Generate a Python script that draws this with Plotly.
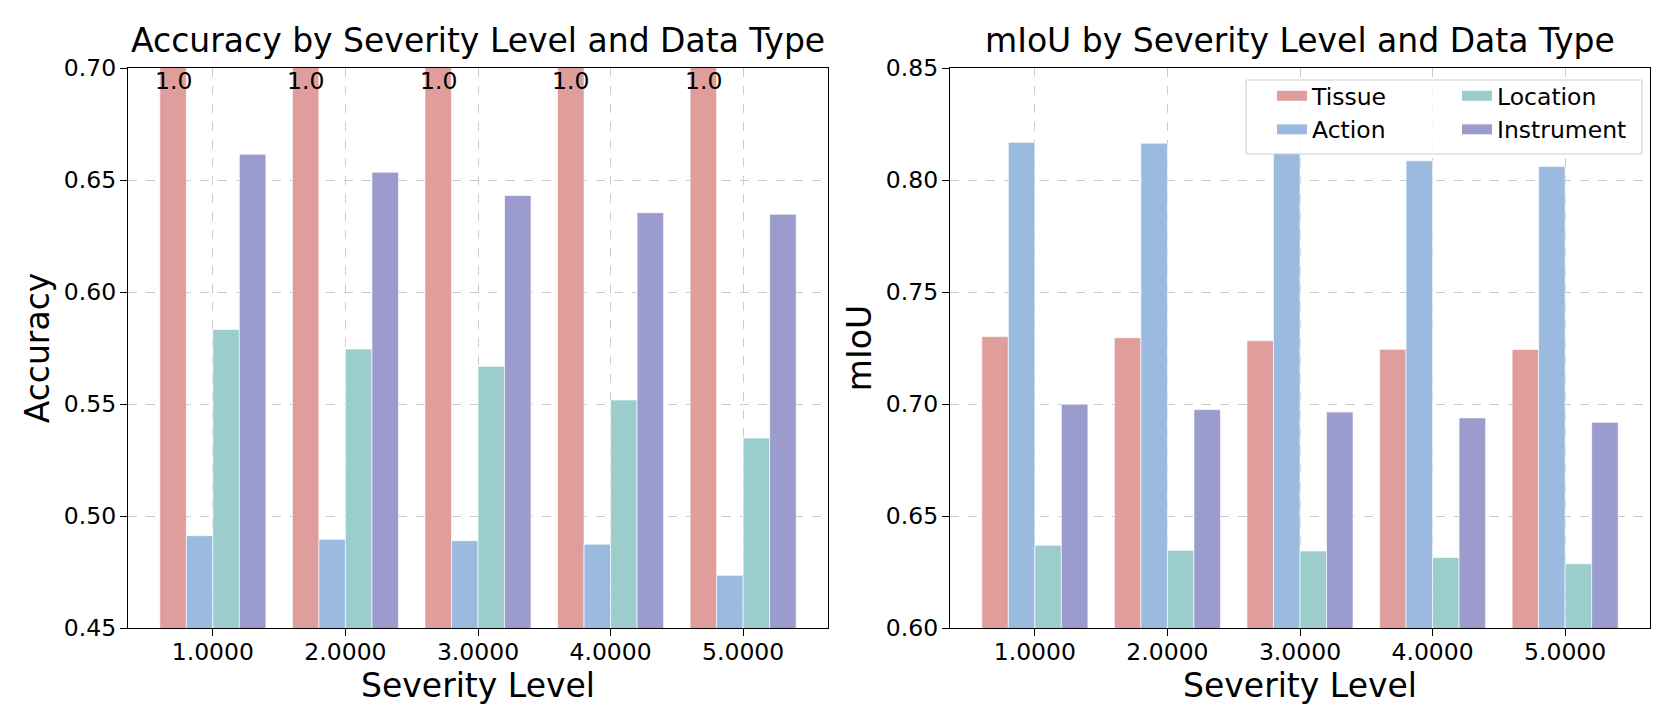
import plotly.graph_objects as go

# ---- data ----
severity = [1, 2, 3, 4, 5]
tick_text = ["1.0000", "2.0000", "3.0000", "4.0000", "5.0000"]
series_names = ["Tissue", "Action", "Location", "Instrument"]
colors = ["#DF9E9C", "#9ABADF", "#9CCDCD", "#9B9BCD"]

acc_tissue = [1.0, 1.0, 1.0, 1.0, 1.0]
acc_action = [0.4912, 0.4896, 0.4890, 0.4874, 0.4735]
acc_location = [0.5833, 0.5745, 0.5668, 0.5518, 0.5348]
acc_instrument = [0.6615, 0.6535, 0.6431, 0.6354, 0.6347]

miou_tissue = [0.7301, 0.7296, 0.7283, 0.7244, 0.7243]
miou_action = [0.8168, 0.8164, 0.8123, 0.8086, 0.8060]
miou_location = [0.6369, 0.6347, 0.6344, 0.6315, 0.6287]
miou_instrument = [0.6999, 0.6975, 0.6964, 0.6938, 0.6918]

acc_range = [0.45, 0.70]
miou_range = [0.60, 0.85]

W, H = 1661, 712
FONT = "DejaVu Sans"
TICK = 23.5
BIG = 33

acc_series = [acc_tissue, acc_action, acc_location, acc_instrument]
miou_series = [miou_tissue, miou_action, miou_location, miou_instrument]

fig = go.Figure()

for i, (name, vals) in enumerate(zip(series_names, acc_series)):
    fig.add_trace(go.Bar(
        x=severity, y=vals, name=name, marker_color=colors[i],
        marker_line=dict(color="rgba(255,255,255,0.8)", width=0.8),
        xaxis="x", yaxis="y", showlegend=False, offsetgroup=str(i),
    ))

for i, (name, vals) in enumerate(zip(series_names, miou_series)):
    fig.add_trace(go.Bar(
        x=severity, y=vals, name=name, marker_color=colors[i],
        marker_line=dict(color="rgba(255,255,255,0.8)", width=0.8),
        xaxis="x2", yaxis="y2", showlegend=False, offsetgroup=str(i),
    ))

# legend entries (wide rectangular swatches like the original)
for i, name in enumerate(series_names):
    fig.add_trace(go.Scatter(
        x=[None], y=[None], mode="lines", name=name,
        line=dict(color=colors[i], width=15),
        xaxis="x2", yaxis="y2", showlegend=True, hoverinfo="skip",
        legend="legend" if i in (0, 1) else "legend2",
    ))

# value labels for bars exceeding the accuracy axis range
n = len(series_names)
bw = 0.8 / n
annotations = []
for s, vals in enumerate(acc_series):
    off = -0.4 + bw * (s + 0.5)
    for lvl, v in zip(severity, vals):
        if v > acc_range[1]:
            annotations.append(dict(
                x=lvl + off, y=acc_range[1], xref="x", yref="y",
                text=f"{v:.1f}", showarrow=False, yanchor="top", xanchor="center",
                font=dict(family=FONT, size=TICK, color="black"), yshift=3,
            ))

dom_l = [120 / W, 820 / W]
dom_r = [942 / W, 1642 / W]
dom_y = [(H - 620) / H, (H - 60) / H]

titles = ["Accuracy by Severity Level and Data Type", "mIoU by Severity Level and Data Type"]
for dom, t in zip([dom_l, dom_r], titles):
    annotations.append(dict(
        x=(dom[0] + dom[1]) / 2, y=(H - 32) / H, xref="paper", yref="paper",
        text=t, showarrow=False, xanchor="center", yanchor="middle",
        font=dict(family=FONT, size=BIG, color="black"),
    ))

xcommon = dict(
    range=[0.36, 5.64], tickmode="array", tickvals=severity, ticktext=tick_text,
    showline=True, linecolor="black", linewidth=1.3, mirror=True,
    ticks="outside", ticklen=7, tickcolor="black", tickwidth=1.3,
    showgrid=True, gridcolor="#cccccc", griddash="dash", gridwidth=1,
    tickfont=dict(family=FONT, size=TICK, color="black"),
    title=dict(text="Severity Level", font=dict(family=FONT, size=BIG, color="black"), standoff=4),
    zeroline=False, ticklabelstandoff=-4, automargin=False,
)
ycommon = dict(
    showline=True, linecolor="black", linewidth=1.3, mirror=True,
    ticks="outside", ticklen=7, tickcolor="black", tickwidth=1.3,
    showgrid=True, gridcolor="#cccccc", griddash="dash", gridwidth=1,
    tickfont=dict(family=FONT, size=TICK, color="black"),
    dtick=0.05, tickformat=".2f", zeroline=False, ticklabelstandoff=-1,
    automargin=False,
)

legend_font = dict(family=FONT, size=TICK, color="black")
fig.update_layout(
    width=W, height=H,
    margin=dict(l=0, r=0, t=0, b=0),
    paper_bgcolor="white", plot_bgcolor="white",
    barmode="group", bargap=0.2, bargroupgap=0,
    font=dict(family=FONT, color="black"),
    xaxis=dict(domain=dom_l, anchor="y", **xcommon),
    yaxis=dict(domain=dom_y, anchor="x", range=acc_range,
               title=dict(text="Accuracy", font=dict(family=FONT, size=BIG, color="black"), standoff=4),
               **ycommon),
    xaxis2=dict(domain=dom_r, anchor="y2", **xcommon),
    yaxis2=dict(domain=dom_y, anchor="x2", range=miou_range,
                title=dict(text="mIoU", font=dict(family=FONT, size=BIG, color="black"), standoff=4),
                **ycommon),
    legend=dict(x=1264 / W, y=(H - 66) / H, xanchor="left", yanchor="top",
                bgcolor="rgba(0,0,0,0)", borderwidth=0, font=legend_font,
                orientation="v"),
    legend2=dict(x=1449 / W, y=(H - 66) / H, xanchor="left", yanchor="top",
                 bgcolor="rgba(0,0,0,0)", borderwidth=0, font=legend_font,
                 orientation="v"),
    annotations=annotations,
    shapes=[dict(type="rect", xref="paper", yref="paper",
                 x0=1238 / W, x1=1634 / W, y0=(H - 146) / H, y1=(H - 72) / H,
                 fillcolor="rgba(255,255,255,0.8)", line=dict(color="#d0d0d0", width=1),
                 layer="above")],
)

fig.write_html("out.html")
